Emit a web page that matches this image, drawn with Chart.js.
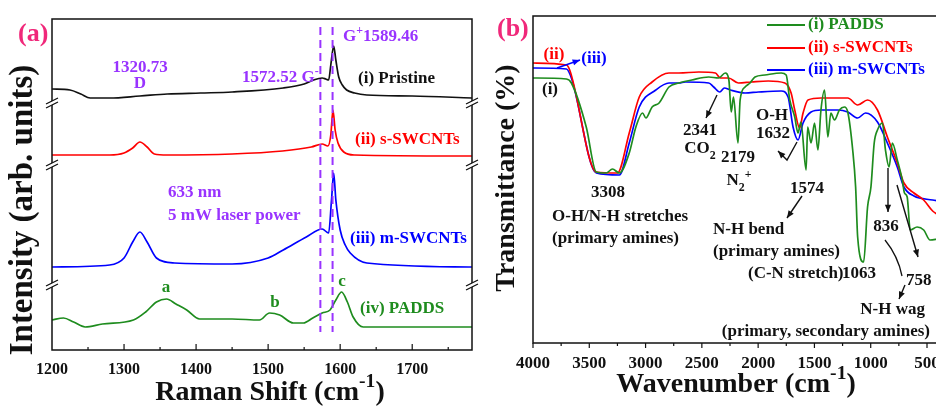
<!DOCTYPE html>
<html>
<head>
<meta charset="utf-8">
<script src="https://cdn.jsdelivr.net/npm/chart.js@4"></script>
<style>
html,body{margin:0;padding:0;background:#fff;overflow:hidden;width:936px;height:407px}
#ramanCanvas{position:absolute;left:0;top:0}
#irCanvas{position:absolute;left:480px;top:0}
</style>
</head>
<body>
<canvas id="ramanCanvas" width="480" height="407"></canvas>
<canvas id="irCanvas" width="470" height="407"></canvas>
<script>
const SERIF = "'Liberation Serif', 'Times New Roman', serif";
const PURPLE = '#9933ff', PINK = '#f0287a', GREEN = '#1e8c1e', RED = '#ff0000', BLUE = '#0000ff', INK = '#111111';

// ===== (a) Raman data =====
const ramanTicks = [1200, 1300, 1400, 1500, 1600, 1700];
const gBands = [1572.52, 1589.46];
const breakLevels = [247, 185, 65];

const pristineX = [1200,1225,1240,1253,1280,1322,1360,1406,1450,1521,1550,1563,1575,1580,1584,1587,1591,1594,1598,1603,1609,1620,1637,1700,1783];
const pristineY = [261,260,256,252,252,254,256,257,258,262,266,270,272,271,270,285,304,290,273,265,260,257,255,254,252];

const sSwcntX = [1200,1280,1300,1312,1322,1332,1342,1360,1450,1520,1560,1575,1583,1587,1590,1593,1597,1605,1620,1783];
const sSwcntY = [195,195,197,202,208,203,196,195,196,199,203,206,204,215,240,220,207,198,195,194];

const mSwcntX = [1200,1280,1300,1312,1322,1332,1345,1370,1450,1500,1521,1553,1575,1584,1588,1591,1594,1600,1607,1614,1637,1783];
const mSwcntY = [83,85,92,108,118,108,92,87,86,92,100,113,121,117,150,177,150,120,105,97,87,83];

const paddsX = [1200,1216,1230,1246,1270,1313,1330,1345,1359,1372,1387,1405,1450,1488,1502,1516,1535,1549,1562,1575,1586,1594,1602,1610,1618,1632,1700,1783];
const paddsY = [30,32,28,23,26,30,38,48,51,46,40,31,31,30,37,35,27,27,32,37,40,50,58,48,33,23,23,23];

// ===== (b) FTIR data =====
const irTicks = [4000, 3500, 3000, 2500, 2000, 1500, 1000, 500];

const irPaddsX = [4000,3703,3659,3527,3438,3350,3294,3233,3145,3086,3027,2997,2942,2880,2792,2704,2589,2439,2351,2292,2260,2239,2219,2179,2160,2116,2072,2028,1940,1795,1751,1719,1675,1646,1620,1574,1560,1530,1499,1469,1442,1410,1381,1354,1322,1278,1234,1204,1160,1134,1116,1063,1028,998,969,940,896,869,837,808,764,720,700,676,649,588,529,473,400];
const irPaddsY = [265,264,260,216,171,170,174,170,190,216,230,225,236,240,256,260,263,266,265,270,263,231,246,200,243,256,260,266,268,270,268,243,226,210,221,173,216,200,220,193,233,253,206,230,223,233,236,231,193,156,106,81,136,156,200,213,220,193,176,200,183,163,150,146,113,116,113,103,104];

const irSswX = [4000,3703,3674,3438,3250,3145,3056,2942,2792,2704,2527,2380,2336,2263,2175,2060,1910,1763,1707,1675,1632,1601,1557,1442,1204,1116,1028,940,852,764,705,616,530,450,400];
const irSswY = [280,278,273,171,170,210,246,261,270,270,271,270,265,265,260,261,262,260,250,233,215,230,243,245,245,238,243,233,206,180,160,150,143,132,128];

const irMswX = [4000,3703,3659,3438,3233,3145,3056,2909,2792,2704,2645,2439,2395,2341,2300,2248,2116,1998,1795,1734,1690,1646,1601,1530,1442,1293,1204,1116,1046,940,852,764,705,616,450,400];
const irMswY = [275,274,265,170,168,200,236,253,260,260,261,260,256,251,255,253,250,251,252,246,216,203,220,231,233,233,231,225,230,221,200,176,156,147,143,142];

function pts(xs, ys) { return xs.map((x, i) => ({ x: x, y: ys[i] })); }
function font(size) { return `bold ${size}px ${SERIF}`; }

// parts: [text, shift]  shift 1 = superscript, -1 = subscript
function rich(ctx, parts, x, y, size, color, align) {
  ctx.save();
  ctx.fillStyle = color;
  ctx.textBaseline = 'middle';
  ctx.textAlign = 'left';
  let w = 0;
  const runs = parts.map(([t, s]) => {
    const fs = s ? size * 0.7 : size;
    ctx.font = font(fs);
    const pw = ctx.measureText(t).width;
    w += pw;
    return { t, s: s || 0, fs, pw };
  });
  let cx = align === 'center' ? x - w / 2 : align === 'right' ? x - w : x;
  runs.forEach(r => {
    ctx.font = font(r.fs);
    ctx.fillText(r.t, cx, y - r.s * size * 0.38);
    cx += r.pw;
  });
  ctx.restore();
}
function txt(ctx, t, x, y, size, color, align) { rich(ctx, [[t, 0]], x, y, size, color, align || 'left'); }

function vtitle(ctx, parts, x, y, size) {
  ctx.save();
  ctx.translate(x, y);
  ctx.rotate(-Math.PI / 2);
  rich(ctx, parts, 0, 0, size, INK, 'center');
  ctx.restore();
}

function arrow(ctx, path, color) {
  ctx.save();
  ctx.strokeStyle = color || INK;
  ctx.fillStyle = color || INK;
  ctx.lineWidth = 1.4;
  ctx.beginPath();
  ctx.moveTo(path[0][0], path[0][1]);
  for (let i = 1; i < path.length; i++) ctx.lineTo(path[i][0], path[i][1]);
  ctx.stroke();
  const [x1, y1] = path[path.length - 2], [x2, y2] = path[path.length - 1];
  const a = Math.atan2(y2 - y1, x2 - x1);
  ctx.beginPath();
  ctx.moveTo(x2, y2);
  ctx.lineTo(x2 - 8 * Math.cos(a - 0.4), y2 - 8 * Math.sin(a - 0.4));
  ctx.lineTo(x2 - 8 * Math.cos(a + 0.4), y2 - 8 * Math.sin(a + 0.4));
  ctx.closePath();
  ctx.fill();
  ctx.restore();
}

function breakMark(ctx, x, y) {
  ctx.save();
  ctx.fillStyle = '#fff';
  ctx.beginPath();
  ctx.moveTo(x - 6, y + 1); ctx.lineTo(x + 6, y - 5); ctx.lineTo(x + 6, y - 1); ctx.lineTo(x - 6, y + 5);
  ctx.closePath(); ctx.fill();
  ctx.strokeStyle = INK; ctx.lineWidth = 1.3;
  ctx.beginPath();
  ctx.moveTo(x - 6, y + 1); ctx.lineTo(x + 6, y - 5);
  ctx.moveTo(x - 6, y + 5); ctx.lineTo(x + 6, y - 1);
  ctx.stroke();
  ctx.restore();
}

function line(color, data) {
  return { data: data, borderColor: color, borderWidth: 1.7, pointRadius: 0, cubicInterpolationMode: 'monotone', fill: false };
}

function baseOptions(pad, xCfg, yMax) {
  return {
    responsive: false,
    animation: false,
    layout: { padding: pad },
    plugins: { legend: { display: false }, tooltip: { enabled: false } },
    scales: {
      x: Object.assign({
        type: 'linear',
        grid: { display: false, drawTicks: false },
        border: { display: false },
        ticks: { font: { family: SERIF, weight: 'bold', size: 16 }, color: INK, padding: 10, maxRotation: 0, autoSkip: false, callback: v => String(v) }
      }, xCfg),
      y: { display: false, min: 0, max: yMax }
    }
  };
}

// ===== (a) Raman =====
const ramanPlugin = {
  id: 'ramanDecor',
  afterDraw(chart) {
    const { ctx, chartArea: a, scales: { x, y } } = chart;
    ctx.save();
    ctx.strokeStyle = INK; ctx.lineWidth = 1.5;
    ctx.strokeRect(a.left, a.top, a.right - a.left, a.bottom - a.top);
    ctx.lineWidth = 1.2;
    ctx.beginPath();
    for (let v = 1250; v < 1783; v += 50) {
      const px = x.getPixelForValue(v), len = v % 100 === 0 ? 6 : 3;
      ctx.moveTo(px, a.bottom); ctx.lineTo(px, a.bottom - len);
    }
    ctx.stroke();
    ctx.strokeStyle = PURPLE; ctx.lineWidth = 2; ctx.setLineDash([8, 5]);
    gBands.forEach(g => {
      const px = x.getPixelForValue(g);
      ctx.beginPath(); ctx.moveTo(px, y.getPixelForValue(323)); ctx.lineTo(px, y.getPixelForValue(18)); ctx.stroke();
    });
    ctx.restore();
    breakLevels.forEach(b => { breakMark(ctx, a.left, y.getPixelForValue(b)); breakMark(ctx, a.right, y.getPixelForValue(b)); });

    txt(ctx, '(a)', 18, 34, 26, PINK);
    rich(ctx, [['G', 0], ['+', 1], ['1589.46', 0]], 343, 37, 17, PURPLE, 'left');
    txt(ctx, '1320.73', 140, 68, 17, PURPLE, 'center');
    txt(ctx, 'D', 140, 84, 17, PURPLE, 'center');
    rich(ctx, [['1572.52 G', 0], ['-', 1]], 242, 78, 17, PURPLE, 'left');
    txt(ctx, '(i) Pristine', 358, 79, 17, INK);
    txt(ctx, '(ii) s-SWCNTs', 355, 140, 17, RED);
    txt(ctx, '633 nm', 168, 193, 17, PURPLE);
    txt(ctx, '5 mW laser power', 168, 216, 17, PURPLE);
    txt(ctx, '(iii) m-SWCNTs', 350, 239, 17, BLUE);
    txt(ctx, 'a', 166, 288, 17, GREEN, 'center');
    txt(ctx, 'b', 275, 303, 17, GREEN, 'center');
    txt(ctx, 'c', 342, 282, 17, GREEN, 'center');
    txt(ctx, '(iv) PADDS', 360, 309, 17, GREEN);

    vtitle(ctx, [['Intensity (arb. units)', 0]], 23, 210, 33);
    rich(ctx, [['Raman Shift (cm', 0], ['-1', 1], [')', 0]], 270, 393, 28, INK, 'center');
  }
};

new Chart(document.getElementById('ramanCanvas'), {
  type: 'line',
  data: {
    datasets: [
      line(INK, pts(pristineX, pristineY)),
      line(RED, pts(sSwcntX, sSwcntY)),
      line(BLUE, pts(mSwcntX, mSwcntY)),
      line(GREEN, pts(paddsX, paddsY))
    ]
  },
  options: baseOptions({ left: 52, right: 8, top: 19, bottom: 0 }, {
    min: 1200, max: 1783,
    afterBuildTicks: s => { s.ticks = ramanTicks.map(v => ({ value: v })); },
    afterFit: s => { s.height = 57; }
  }, 331),
  plugins: [ramanPlugin]
});

// ===== (b) FTIR =====
const irPlugin = {
  id: 'irDecor',
  afterDraw(chart) {
    const { ctx, chartArea: a, scales: { x } } = chart;
    ctx.save();
    ctx.strokeStyle = INK; ctx.lineWidth = 1.5;
    ctx.strokeRect(a.left, a.top, a.right - a.left, a.bottom - a.top);
    ctx.lineWidth = 1.2;
    ctx.beginPath();
    for (let v = 4000; v >= 500; v -= 250) {
      const px = x.getPixelForValue(v), len = v % 500 === 0 ? 5 : 3;
      ctx.moveTo(px, a.bottom); ctx.lineTo(px, a.bottom + len);
    }
    ctx.stroke();
    // legend
    [[GREEN, '(i) PADDS', 25], [RED, '(ii) s-SWCNTs', 48], [BLUE, '(iii) m-SWCNTs', 70]].forEach(([c, t, ly]) => {
      ctx.strokeStyle = c; ctx.lineWidth = 2;
      ctx.beginPath(); ctx.moveTo(287, ly); ctx.lineTo(325, ly); ctx.stroke();
      txt(ctx, t, 328, ly, 17, c);
    });
    ctx.restore();

    txt(ctx, '(b)', 17, 29, 26, PINK);
    txt(ctx, '(ii)', 74, 55, 17, RED, 'center');
    txt(ctx, '(iii)', 114, 59, 17, BLUE, 'center');
    arrow(ctx, [[77, 68], [100, 60]], BLUE);
    txt(ctx, '(i)', 70, 90, 17, INK, 'center');

    txt(ctx, '3308', 128, 193, 17, INK, 'center');
    txt(ctx, 'O-H/N-H stretches', 72, 217, 17, INK);
    txt(ctx, '(primary amines)', 72, 239, 17, INK);

    arrow(ctx, [[237, 95], [226, 118]]);
    txt(ctx, '2341', 220, 131, 17, INK, 'center');
    rich(ctx, [['CO', 0], ['2', -1]], 220, 149, 17, INK, 'center');
    txt(ctx, '2179', 258, 158, 17, INK, 'center');
    rich(ctx, [['N', 0], ['2', -1], ['+', 1]], 259, 181, 17, INK, 'center');

    txt(ctx, 'O-H', 292, 116, 17, INK, 'center');
    txt(ctx, '1632', 293, 134, 17, INK, 'center');
    arrow(ctx, [[317, 142], [307, 160], [298, 151]]);

    txt(ctx, '1574', 327, 189, 17, INK, 'center');
    arrow(ctx, [[322, 196], [307, 218]]);
    txt(ctx, 'N-H bend', 233, 230, 17, INK);
    txt(ctx, '(primary amines)', 233, 252, 17, INK);
    txt(ctx, '(C-N stretch)', 268, 274, 17, INK);
    txt(ctx, '1063', 362, 274, 17, INK);

    arrow(ctx, [[408, 168], [408, 212]]);
    txt(ctx, '836', 406, 227, 17, INK, 'center');
    arrow(ctx, [[417, 185], [438, 257]]);
    ctx.save();
    ctx.strokeStyle = INK; ctx.lineWidth = 1.3;
    ctx.beginPath(); ctx.moveTo(405, 240); ctx.quadraticCurveTo(418, 256, 422, 276); ctx.stroke();
    ctx.restore();
    txt(ctx, '758', 426, 281, 17, INK);
    arrow(ctx, [[425, 285], [419, 299]]);
    txt(ctx, 'N-H wag', 445, 310, 17, INK, 'right');
    txt(ctx, '(primary, secondary amines)', 450, 332, 17, INK, 'right');

    vtitle(ctx, [['Transmittance (%)', 0]], 27, 178, 28);
    rich(ctx, [['Wavenumber (cm', 0], ['-1', 1], [')', 0]], 256, 385, 28, INK, 'center');
  }
};

const irOpts = baseOptions({ left: 53, right: 9, top: 16, bottom: 0 }, {
  min: 400, max: 4000, reverse: true,
  afterBuildTicks: s => { s.ticks = irTicks.map(v => ({ value: v })); },
  afterFit: s => { s.height = 64; }
}, 327);
irOpts.scales.x.ticks.font.size = 17;

new Chart(document.getElementById('irCanvas'), {
  type: 'line',
  data: {
    datasets: [
      line(GREEN, pts(irPaddsX, irPaddsY)),
      line(RED, pts(irSswX, irSswY)),
      line(BLUE, pts(irMswX, irMswY))
    ]
  },
  options: irOpts,
  plugins: [irPlugin]
});
</script>
</body>
</html>
